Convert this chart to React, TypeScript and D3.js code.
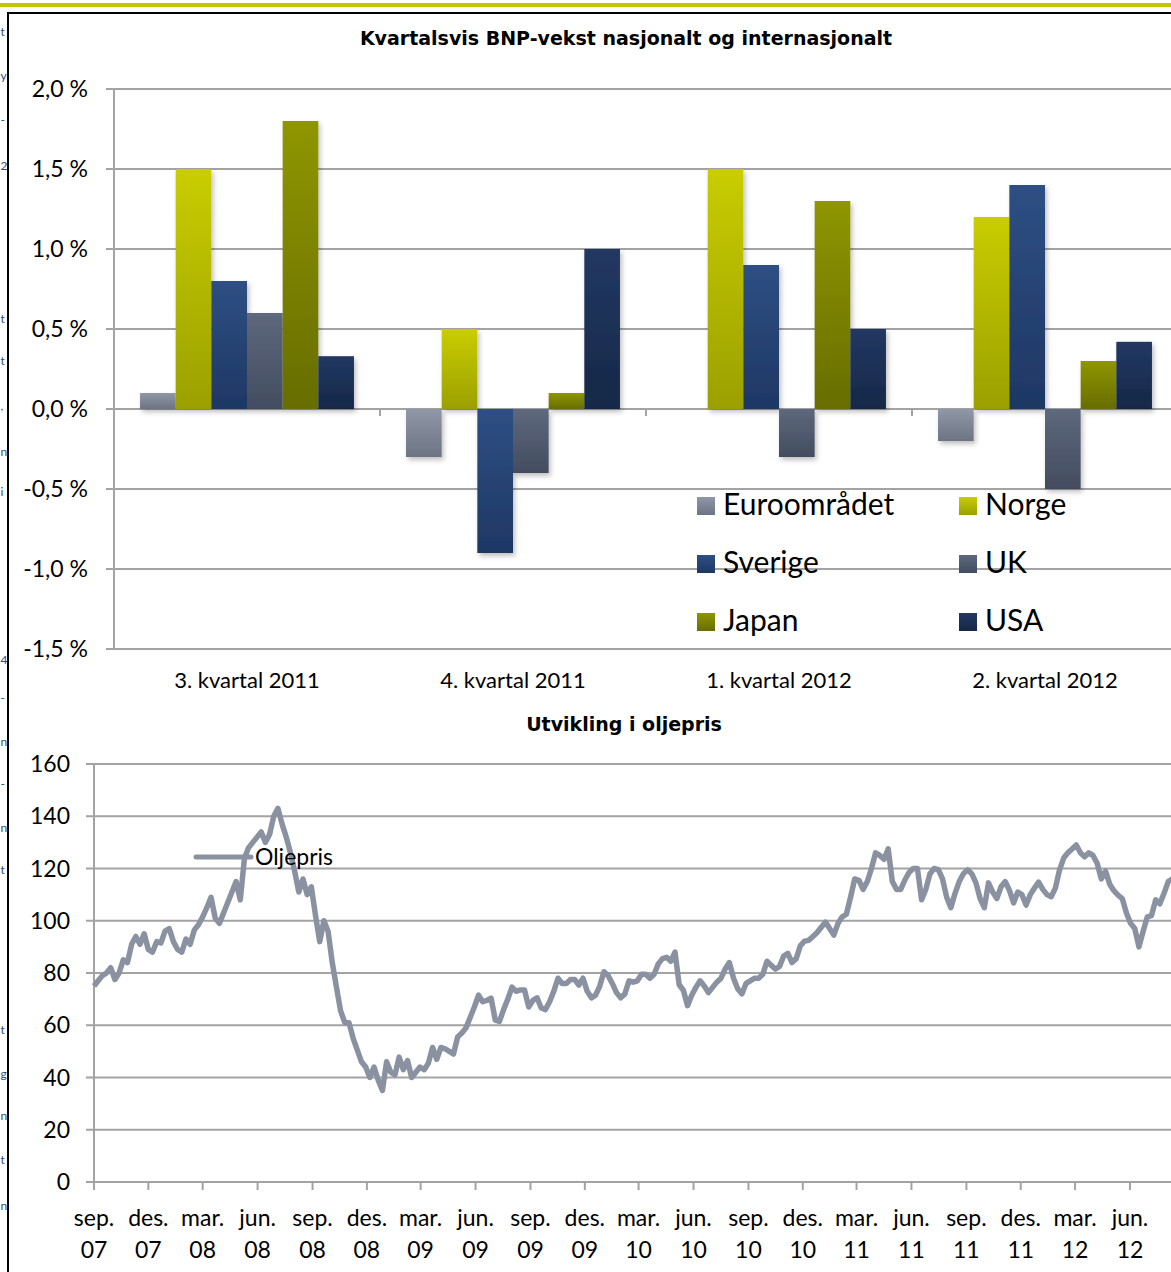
import React from "react";
import * as d3 from "d3";

// --- Kvartalsvis BNP-vekst ---
const quarters = ["3. kvartal 2011", "4. kvartal 2011", "1. kvartal 2012", "2. kvartal 2012"];
const countries = ["Euroområdet", "Norge", "Sverige", "UK", "Japan", "USA"];
const euroValues = [0.1, -0.3, 0.0, -0.2];
const norgeValues = [1.5, 0.5, 1.5, 1.2];
const sverigeValues = [0.8, -0.9, 0.9, 1.4];
const ukValues = [0.6, -0.4, -0.3, -0.5];
const japanValues = [1.8, 0.1, 1.3, 0.3];
const usaValues = [0.33, 1.0, 0.5, 0.42];
const gdpTicks = [2.0, 1.5, 1.0, 0.5, 0.0, -0.5, -1.0, -1.5];

// --- Oljepris (ukentlig fra 1. sep 2007) ---
const oilStart = "2007-09-01";
const oilPrices = [
  75, 77, 79, 80, 82, 77.5, 80, 85, 84, 91, 94, 91, 95, 89, 88, 92, 91.5, 96, 97, 92,
  89, 88, 93, 91, 96.5, 98.5, 101.5, 105, 109, 101, 99, 103, 107, 111, 115, 108, 124, 128, 130, 132,
  134, 130, 133, 140, 143, 137, 132, 126, 119, 111, 116, 110, 113, 102, 92, 100, 96, 84, 74.6, 65.5,
  61, 61, 55, 50.5, 46, 44, 40, 44, 39, 35, 46, 42, 41, 47.8, 43, 46.5, 40, 42, 44, 43,
  45.5, 51.5, 47, 51.5, 51, 50, 49, 55.5, 57, 59, 63, 67, 71.5, 69, 69.5, 70.4, 62, 61.5, 66, 70,
  74.6, 73, 73.5, 73.5, 67, 69.5, 70.5, 66.6, 66, 69, 73, 78, 76, 76, 77.5, 77.5, 75.4, 78, 73, 70.5,
  71.5, 75, 80.5, 79, 76, 72.5, 70.5, 72, 77, 76.5, 77, 79.5, 79.5, 78, 79.5, 83.5, 85.5, 86, 84.5, 88,
  75.5, 73.4, 67.5, 71.5, 74.5, 77, 75, 72.5, 74.5, 76.5, 78, 81.5, 84, 78, 74, 72, 76, 77, 78, 78,
  79.5, 84.5, 83, 81.5, 82.5, 86.5, 87.5, 84, 85.5, 90.5, 92.2, 92.5, 94, 95.5, 97.5, 99.5, 97, 94.5, 99, 101.5,
  102.5, 109, 116, 115.5, 112, 115, 120, 126, 125, 123.5, 127.5, 115, 112, 112, 115.6, 118.5, 120, 120, 108, 112,
  118, 120, 119.6, 116, 109, 105, 110.5, 115, 118, 119.5, 118, 114.5, 108.5, 105, 114.5, 111, 108.5, 113, 115, 111.7,
  106.8, 111, 110, 106, 110, 112.5, 114.8, 112, 110, 109.2, 112.5, 119.5, 124, 126, 127.5, 129, 126, 124.5, 126, 125,
  122, 116, 119, 114, 111.5, 109.8, 108.5, 103, 99, 97, 90, 96, 101.5, 102, 108, 106.5, 110.5, 115, 116,
];
const oilTicks = [0, 20, 40, 60, 80, 100, 120, 140, 160];
const monthNames = ["jan.", "feb.", "mar.", "apr.", "mai", "jun.", "jul.", "aug.", "sep.", "okt.", "nov.", "des."];
const oilSeriesName = "Oljepris";

const seriesValues = [euroValues, norgeValues, sverigeValues, ukValues, japanValues, usaValues];
const gradients = [
  ["#9098a8", "#6c7484"],
  ["#c9cd00", "#9ba000"],
  ["#2e4f83", "#1e3764"],
  ["#5e687c", "#434c60"],
  ["#8f9600", "#676d00"],
  ["#223862", "#162847"],
];

// ends of the page's body text lines, visible in the left margin
const marginBits = [
  { y: 36, t: "t" }, { y: 80, t: "y" }, { y: 124, t: "-" }, { y: 170, t: "2" },
  { y: 323, t: "t" }, { y: 365, t: "t" }, { y: 410, t: "," }, { y: 456, t: "n" },
  { y: 496, t: "i" }, { y: 664, t: "4" }, { y: 702, t: "-" }, { y: 746, t: "n" },
  { y: 788, t: "-" }, { y: 832, t: "n" }, { y: 874, t: "t" }, { y: 1034, t: "t" },
  { y: 1078, t: "g" }, { y: 1120, t: "n" }, { y: 1164, t: "t" }, { y: 1210, t: "n" },
];

const W = 1171;
const H = 1272;
const FONT = "Lato, 'Noto Sans', sans-serif";
const TITLE_FONT = "'DejaVu Sans', Verdana, sans-serif";
const GRID = "#a3a3a3";
const OIL = "#8a92a2";

const fmtPct = (v: number) => d3.format(".1f")(v).replace(".", ",").replace("−", "-") + " %";

export default function App() {
  // bar chart scales
  const x0 = d3.scaleBand<string>().domain(quarters).range([114, 1178]).padding(0);
  const x1 = d3
    .scaleBand<string>()
    .domain(countries)
    .range([0, x0.bandwidth()])
    .paddingInner(0)
    .paddingOuter(0.73);
  const y = d3.scaleLinear().domain([-1.5, 2.0]).range([649, 89]);

  // oil chart scales
  const parse = d3.timeParse("%Y-%m-%d");
  const start = parse(oilStart) as Date;
  const oilData = oilPrices.map((v, i) => ({ date: d3.timeDay.offset(start, 7 * i), value: v }));
  const xt = d3
    .scaleTime()
    .domain([start, parse("2012-06-01") as Date])
    .range([94, 1130]);
  const yo = d3.scaleLinear().domain([0, 160]).range([1182, 764]);
  const monthTicks = d3.timeMonth.range(start, parse("2012-10-01") as Date, 3);
  const labelEnd = parse("2012-07-01") as Date;
  const line = d3
    .line<{ date: Date; value: number }>()
    .x((d) => xt(d.date))
    .y((d) => yo(d.value))
    .curve(d3.curveLinear);

  return (
    <svg
      width={W}
      height={H}
      viewBox={`0 0 ${W} ${H}`}
      style={{ position: "absolute", left: 0, top: 0, background: "#fff" }}
    >
      <defs>
        {gradients.map((g, i) => (
          <linearGradient key={i} id={`grad${i}`} x1="0" y1="0" x2="0" y2="1">
            <stop offset="0%" stopColor={g[0]} />
            <stop offset="100%" stopColor={g[1]} />
          </linearGradient>
        ))}
        <filter id="shadow" x="-20%" y="-20%" width="140%" height="140%">
          <feDropShadow dx="2" dy="3" stdDeviation="2.5" floodColor="#000" floodOpacity="0.25" />
        </filter>
      </defs>

      {/* page decorations */}
      <rect x={0} y={3} width={W} height={4} fill="#c4c700" />
      <line x1={7} y1={13} x2={W} y2={13} stroke="#000" strokeWidth={2} />
      <line x1={8} y1={13} x2={8} y2={H} stroke="#000" strokeWidth={2} />
      {marginBits.map((b, i) => (
        <text key={i} x={0.5} y={b.y} fontFamily={FONT} fontSize={12} fill="#2f4d80">
          {b.t}
        </text>
      ))}

      {/* ---------- bar chart ---------- */}
      <text x={626} y={45} textAnchor="middle" fontFamily={TITLE_FONT} fontWeight="bold" fontSize={19} fill="#000">
        Kvartalsvis BNP-vekst nasjonalt og internasjonalt
      </text>
      {gdpTicks.map((t) => (
        <g key={t}>
          <line x1={106} x2={W} y1={y(t)} y2={y(t)} stroke={GRID} strokeWidth={2} />
          <text x={88} y={y(t) + 8} textAnchor="end" fontFamily={FONT} fontSize={23} fill="#000">
            {fmtPct(t)}
          </text>
        </g>
      ))}
      <line x1={114} x2={114} y1={y(2.0)} y2={y(-1.5)} stroke={GRID} strokeWidth={2} />
      {quarters.slice(1).map((q) => (
        <line key={q} x1={x0(q)} x2={x0(q)} y1={y(0)} y2={y(0) + 7} stroke={GRID} strokeWidth={2} />
      ))}
      <g filter="url(#shadow)">
        {quarters.map((q, qi) =>
          countries.map((c, ci) => {
            const v = seriesValues[ci][qi];
            if (v === 0) return null;
            const top = y(Math.max(0, v));
            const h = Math.abs(y(v) - y(0));
            return (
              <rect
                key={q + c}
                x={(x0(q) as number) + (x1(c) as number)}
                y={top}
                width={x1.bandwidth()}
                height={h}
                fill={`url(#grad${ci})`}
              />
            );
          })
        )}
      </g>
      {quarters.map((q) => (
        <text
          key={q}
          x={(x0(q) as number) + x0.bandwidth() / 2}
          y={688}
          textAnchor="middle"
          fontFamily={FONT}
          fontSize={22}
          fill="#000"
        >
          {q}
        </text>
      ))}
      {countries.map((c, i) => {
        const col = i % 2;
        const row = Math.floor(i / 2);
        const lx = 697 + col * 262;
        const ly = 497 + row * 58;
        return (
          <g key={c}>
            <rect x={lx} y={ly} width={18} height={18} fill={`url(#grad${i})`} />
            <text x={lx + 26} y={ly + 18} fontFamily={FONT} fontSize={30} fill="#000">
              {c}
            </text>
          </g>
        );
      })}

      {/* ---------- oil chart ---------- */}
      <text x={624} y={731} textAnchor="middle" fontFamily={TITLE_FONT} fontWeight="bold" fontSize={19} fill="#000">
        Utvikling i oljepris
      </text>
      {oilTicks.map((t) => (
        <g key={t}>
          <line x1={86} x2={W} y1={yo(t)} y2={yo(t)} stroke={GRID} strokeWidth={2} />
          <text x={70} y={yo(t) + 8} textAnchor="end" fontFamily={FONT} fontSize={23} fill="#000">
            {t}
          </text>
        </g>
      ))}
      <line x1={94} x2={94} y1={yo(160)} y2={yo(0)} stroke={GRID} strokeWidth={2} />
      {monthTicks.map((d) => (
        <g key={d.getTime()}>
          <line x1={xt(d)} x2={xt(d)} y1={yo(0)} y2={yo(0) + 8} stroke={GRID} strokeWidth={2} />
          {d < labelEnd && (
            <>
              <text x={xt(d)} y={1226} textAnchor="middle" fontFamily={FONT} fontSize={23} fill="#000">
                {monthNames[d.getMonth()]}
              </text>
              <text x={xt(d)} y={1258} textAnchor="middle" fontFamily={FONT} fontSize={23} fill="#000">
                {d3.timeFormat("%y")(d)}
              </text>
            </>
          )}
        </g>
      ))}
      <path d={line(oilData) ?? ""} fill="none" stroke={OIL} strokeWidth={5.5} strokeLinejoin="round" />
      <line x1={196} x2={251} y1={857} y2={857} stroke={OIL} strokeWidth={5} strokeLinecap="round" />
      <text x={255} y={865} fontFamily={FONT} fontSize={23} fill="#000">
        {oilSeriesName}
      </text>
    </svg>
  );
}
